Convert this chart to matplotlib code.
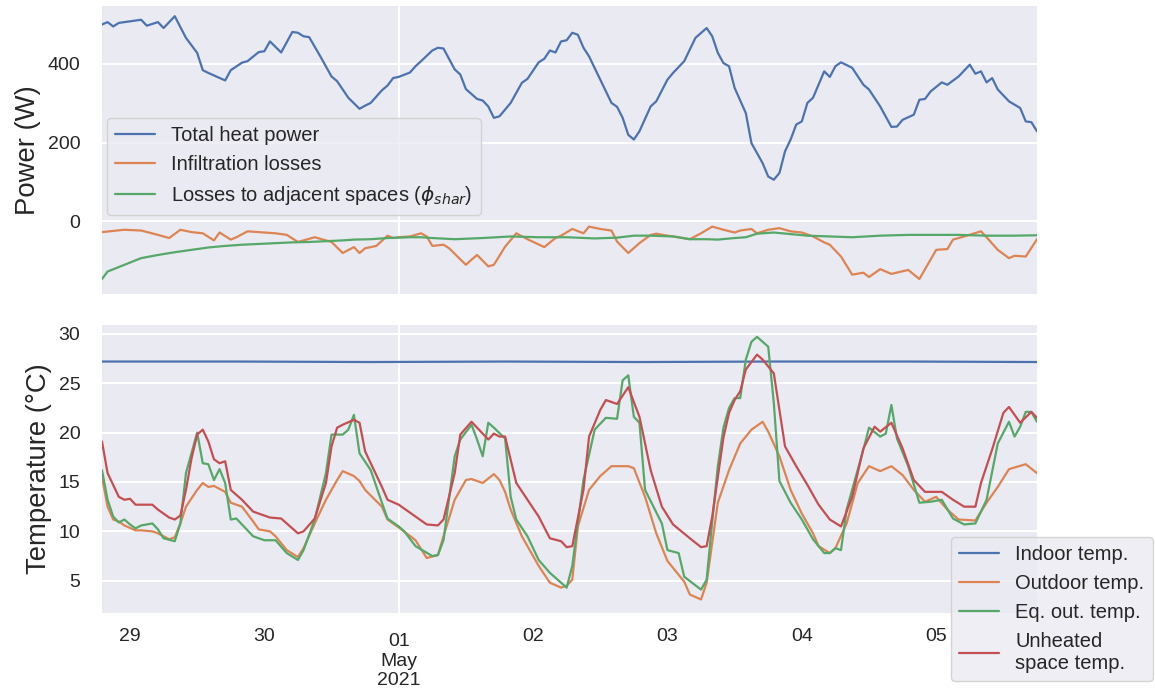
import matplotlib
matplotlib.use("Agg")
import matplotlib.pyplot as plt
import matplotlib.dates as mdates
import pandas as pd
import seaborn as sns

# ---------------- data (hour offset from 2021-04-28 19:00, value) ----------------
START = "2021-04-28 19:00"
END = "2021-05-05 18:00"

heat_power = [(0,500),(1,506),(2,495),(3,504),(5,508),(7,512),(8,497),(10,506),(11,491),(13,521),
    (15,466),(17,428),(18,384),(19,377),(22,358),(23,384),(25,403),(26,407),(28,430),(29,432),
    (30,457),(32,429),(34,481),(35,479),(36,470),(37,468),(39,419),(41,368),(42,356),(44,314),
    (46,286),(47,294),(48,301),(50,333),(51,345),(52,364),(53,367),(55,378),(56,394),(57,407),
    (59,434),(60,441),(61,439),(63,386),(64,373),(65,336),(67,311),(68,307),(69,292),(70,263),
    (71,267),(73,301),(75,352),(76,362),(78,404),(79,413),(80,434),(81,429),(82,457),(83,460),
    (84,479),(85,474),(86,441),(87,419),(89,360),(91,301),(92,291),(93,263),(94,220),(95,208),
    (96,229),(98,292),(99,305),(101,360),(102,377),(104,407),(106,466),(108,491),(109,470),(110,428),
    (111,402),(112,394),(113,339),(115,275),(116,199),(118,148),(119,114),(120,106),(121,123),(122,178),
    (123,208),(124,246),(125,254),(126,301),(127,314),(129,381),(130,367),(131,394),(132,404),(134,390),
    (136,347),(137,335),(139,292),(141,240),(142,241),(143,258),(145,271),(146,309),(147,311),(148,330),
    (150,353),(151,347),(153,368),(155,398),(156,375),(157,381),(158,353),(159,364),(160,335),(162,305),
    (164,288),(165,254),(166,252),(167,229)]

infiltration = [(0,-27),(4,-21),(7,-23),(10,-34),(12,-42),(14,-21),(16,-27),(18,-30),(20,-48),(21,-28),
    (23,-46),(24,-40),(26,-25),(28,-27),(31,-30),(33,-34),(35,-52),(36,-48),(38,-40),(40,-48),
    (41,-52),(43,-80),(45,-65),(46,-80),(47,-68),(49,-62),(51,-36),(52,-42),(53,-40),(55,-38),
    (57,-30),(58,-38),(59,-62),(61,-59),(62,-68),(65,-110),(66,-97),(67,-85),(69,-114),(70,-110),
    (72,-64),(74,-30),(76,-45),(79,-65),(81,-42),(82,-36),(84,-19),(86,-30),(87,-13),(89,-19),
    (91,-23),(92,-51),(94,-80),(96,-55),(98,-34),(99,-31),(101,-36),(103,-40),(105,-45),(107,-30),
    (109,-13),(111,-21),(113,-28),(114,-23),(116,-19),(117,-30),(119,-21),(121,-17),(123,-25),(125,-28),
    (127,-38),(129,-53),(130,-59),(132,-89),(134,-135),(136,-130),(137,-141),(139,-121),(141,-133),(144,-123),
    (146,-146),(149,-72),(151,-70),(152,-46),(154,-38),(157,-25),(158,-40),(160,-72),(162,-93),(163,-87),
    (165,-89),(167,-45)]

adjacent_losses = [(0,-146),(1,-127),(4,-110),(7,-93),(10,-85),(13,-78),(16,-72),(19,-66),(22,-62),(25,-59),
    (28,-57),(31,-55),(34,-53),(37,-52),(40,-50),(43,-48),(45,-46),(48,-45),(51,-42),(55,-40),
    (57,-40),(59,-42),(63,-45),(68,-42),(73,-38),(78,-40),(83,-40),(88,-43),(92,-41),(95,-36),
    (98,-36),(102,-38),(105,-45),(108,-45),(110,-46),(113,-42),(115,-40),(117,-31),(120,-28),(123,-32),
    (126,-36),(130,-38),(134,-40),(139,-36),(144,-34),(148,-34),(153,-34),(158,-36),(163,-36),(167,-35)]

indoor_temp = [(0,27.2),(24,27.2),(48,27.15),(72,27.2),(96,27.15),(120,27.2),(144,27.2),(167,27.15)]

outdoor_temp = [(0,15.5),(1,12.5),(2,11.2),(3,11.0),(4,10.6),(6,10.1),(7,10.1),(9,10.0),(10,9.8),(12,9.2),
    (13,9.4),(14,10.8),(15,12.5),(17,14.2),(18,14.9),(19,14.5),(20,14.6),(22,14.0),(23,12.9),(25,12.5),
    (27,11.0),(28,10.2),(30,10.0),(31,9.5),(33,8.1),(35,7.4),(36,8.3),(38,10.8),(40,13.2),(42,15.2),
    (43,16.1),(45,15.6),(46,15.1),(47,14.2),(50,12.5),(51,11.2),(53,10.4),(56,9.1),(58,7.3),(60,7.6),
    (61,9.5),(63,13.2),(65,15.2),(66,15.3),(68,14.9),(70,15.8),(71,15.2),(72,14.0),(73,12.2),(75,9.5),
    (78,6.5),(80,4.8),(82,4.3),(83,4.5),(84,5.1),(85,10.5),(87,14.2),(89,15.6),(91,16.6),(94,16.6),
    (95,16.4),(97,13.5),(99,9.8),(101,7.0),(104,4.9),(105,3.6),(107,3.1),(108,4.8),(110,12.9),(112,16.2),
    (114,18.9),(116,20.3),(118,21.1),(119,20.1),(121,17.6),(123,14.2),(125,11.8),(127,9.8),(128,8.5),(130,7.8),
    (131,8.3),(133,10.8),(135,14.9),(137,16.6),(139,16.1),(141,16.6),(143,15.7),(145,14.2),(147,13.0),(149,13.5),
    (151,12.2),(153,11.2),(156,11.1),(158,12.9),(160,14.5),(162,16.3),(165,16.8),(167,15.9)]

eq_outdoor_temp = [(0,16.2),(1,13.2),(2,11.5),(3,10.9),(4,11.2),(5,10.7),(6,10.3),(7,10.6),(9,10.8),(10,10.2),
    (11,9.3),(13,9.0),(14,10.8),(15,15.9),(17,20.0),(18,16.9),(19,16.8),(20,15.2),(21,16.3),(22,14.9),
    (23,11.2),(24,11.3),(25,10.7),(27,9.5),(29,9.1),(31,9.1),(33,7.8),(35,7.1),(36,8.1),(38,11.2),
    (40,15.9),(41,19.8),(43,19.8),(44,20.3),(45,21.8),(46,17.9),(48,16.2),(50,12.9),(51,11.3),(53,10.5),
    (54,10.0),(56,8.5),(59,7.5),(60,7.6),(61,9.1),(63,17.6),(64,19.3),(66,20.8),(67,19.3),(68,17.6),
    (69,21.0),(70,20.5),(72,19.4),(73,13.5),(74,11.2),(76,9.5),(78,7.1),(80,5.8),(83,4.3),(84,6.5),
    (86,15.2),(88,20.3),(90,21.5),(92,21.4),(93,25.3),(94,25.8),(95,21.6),(96,21.0),(97,14.2),(100,10.8),
    (101,8.1),(103,7.8),(104,5.4),(107,4.1),(108,5.1),(109,11.0),(110,16.6),(111,20.5),(112,22.5),(113,23.5),
    (114,23.5),(115,27.4),(116,29.2),(117,29.7),(119,28.7),(120,23.0),(121,15.1),(123,12.9),(125,11.2),(127,9.2),
    (129,7.8),(130,7.8),(131,8.3),(132,8.1),(133,12.2),(136,18.3),(137,20.5),(139,19.6),(140,19.9),(141,22.8),
    (142,19.4),(144,16.6),(146,12.9),(148,13.0),(150,13.2),(152,11.3),(154,10.7),(156,10.8),(158,13.2),(160,18.9),
    (162,21.1),(163,19.6),(164,20.6),(165,22.1),(166,22.1),(167,21.1)]

unheated_temp = [(0,19.1),(1,15.9),(3,13.5),(4,13.2),(5,13.3),(6,12.7),(7,12.7),(9,12.7),(10,12.2),(12,11.4),
    (13,11.2),(14,11.6),(15,14.2),(16,17.4),(17,19.8),(18,20.3),(19,19.1),(20,17.3),(21,16.9),(22,17.1),
    (23,14.2),(24,13.7),(25,13.2),(27,12.0),(29,11.6),(30,11.4),(32,11.3),(34,10.3),(35,9.8),(36,10.0),
    (38,11.3),(40,14.9),(41,18.6),(42,20.5),(43,20.8),(45,21.3),(46,21.0),(47,18.1),(50,14.5),(51,13.2),
    (53,12.7),(56,11.5),(58,10.7),(60,10.6),(61,11.2),(63,15.9),(64,19.8),(66,21.1),(67,20.5),(69,19.3),
    (70,19.9),(71,19.6),(72,19.6),(74,14.9),(76,13.2),(78,11.5),(80,9.3),(82,9.0),(83,8.4),(84,8.5),
    (86,14.2),(87,19.6),(89,22.3),(90,23.3),(92,22.9),(94,24.6),(96,21.6),(98,16.2),(100,12.5),(102,10.7),
    (105,9.3),(107,8.4),(108,8.5),(109,11.5),(110,15.5),(111,19.5),(112,22.0),(113,23.3),(114,24.2),(115,26.4),
    (117,27.9),(118,27.4),(120,26.0),(121,22.3),(122,18.6),(124,16.6),(126,14.7),(128,12.7),(130,11.2),(132,10.5),
    (134,13.5),(136,18.4),(138,20.6),(139,20.1),(141,21.0),(143,18.4),(145,15.2),(147,14.0),(150,14.0),(152,13.2),
    (154,12.5),(156,12.5),(157,14.9),(159,18.3),(161,22.0),(162,22.6),(164,21.0),(166,22.1),(167,21.5)]

power_labels = ["Total heat power", "Infiltration losses", r"Losses to adjacent spaces ($\phi_{shar}$)"]
temp_labels = ["Indoor temp.", "Outdoor temp.", "Eq. out. temp.", "Unheated\nspace temp."]

# ---------------- style ----------------
sns.set_theme(style="darkgrid")
plt.rcParams["font.family"] = ["Liberation Sans", "DejaVu Sans"]
plt.rcParams["mathtext.fontset"] = "dejavusans"
colors = ["#4C72B0", "#DD8452", "#55A868", "#C44E52"]

start = pd.Timestamp(START)


def series(pairs):
    hrs = [p[0] for p in pairs]
    vals = [p[1] for p in pairs]
    t = (start + pd.to_timedelta(hrs, unit="h")).to_pydatetime()
    return t, vals


fig = plt.figure(figsize=(11.55, 6.94), dpi=100)
ax1 = fig.add_axes([0.0883, 0.5764, 0.8095, 0.415])
ax2 = fig.add_axes([0.0883, 0.1167, 0.8095, 0.415], sharex=ax1)

for pairs, c, lab in zip([heat_power, infiltration, adjacent_losses], colors, power_labels):
    t, v = series(pairs)
    ax1.plot(t, v, color=c, lw=1.6, label=lab)

for pairs, c, lab in zip([indoor_temp, outdoor_temp, eq_outdoor_temp, unheated_temp], colors, temp_labels):
    t, v = series(pairs)
    ax2.plot(t, v, color=c, lw=1.6, label=lab)

ax1.set_xlim(pd.Timestamp(START).to_pydatetime(), pd.Timestamp(END).to_pydatetime())
ax1.set_ylim(-184, 547)
ax2.set_ylim(1.73, 30.9)
ax1.set_yticks([0, 200, 400])
ax2.set_yticks([5, 10, 15, 20, 25, 30])

ax2.xaxis.set_major_locator(mdates.MonthLocator())
ax2.xaxis.set_major_formatter(mdates.DateFormatter("%d\n%b\n%Y"))
ax2.xaxis.set_minor_locator(mdates.DayLocator())
ax2.xaxis.set_minor_formatter(mdates.DateFormatter("%d"))

for ax in (ax1, ax2):
    ax.grid(True, which="major", color="white", lw=1.4)
    ax.grid(False, which="minor")
    ax.tick_params(axis="y", labelsize=14, pad=15.5, length=0)
    ax.tick_params(axis="x", which="both", length=0)
    for s in ax.spines.values():
        s.set_visible(False)

ax1.tick_params(axis="x", which="both", labelbottom=False)
ax2.tick_params(axis="x", which="minor", labelsize=14, pad=10.5)
ax2.tick_params(axis="x", which="major", labelsize=14, pad=14.5)

ax1.set_ylabel("Power (W)", fontsize=19.8, labelpad=5)
ax2.set_ylabel("Temperature (°C)", fontsize=19.8, labelpad=5)

ax1.legend(loc="upper left", bbox_to_anchor=(0.005, 0.611), borderaxespad=0, fontsize=14.5)
ax2.legend(loc="upper left", bbox_to_anchor=(0.908, 0.264), borderaxespad=0, fontsize=14.5)

fig.savefig("out.png", dpi=100)
